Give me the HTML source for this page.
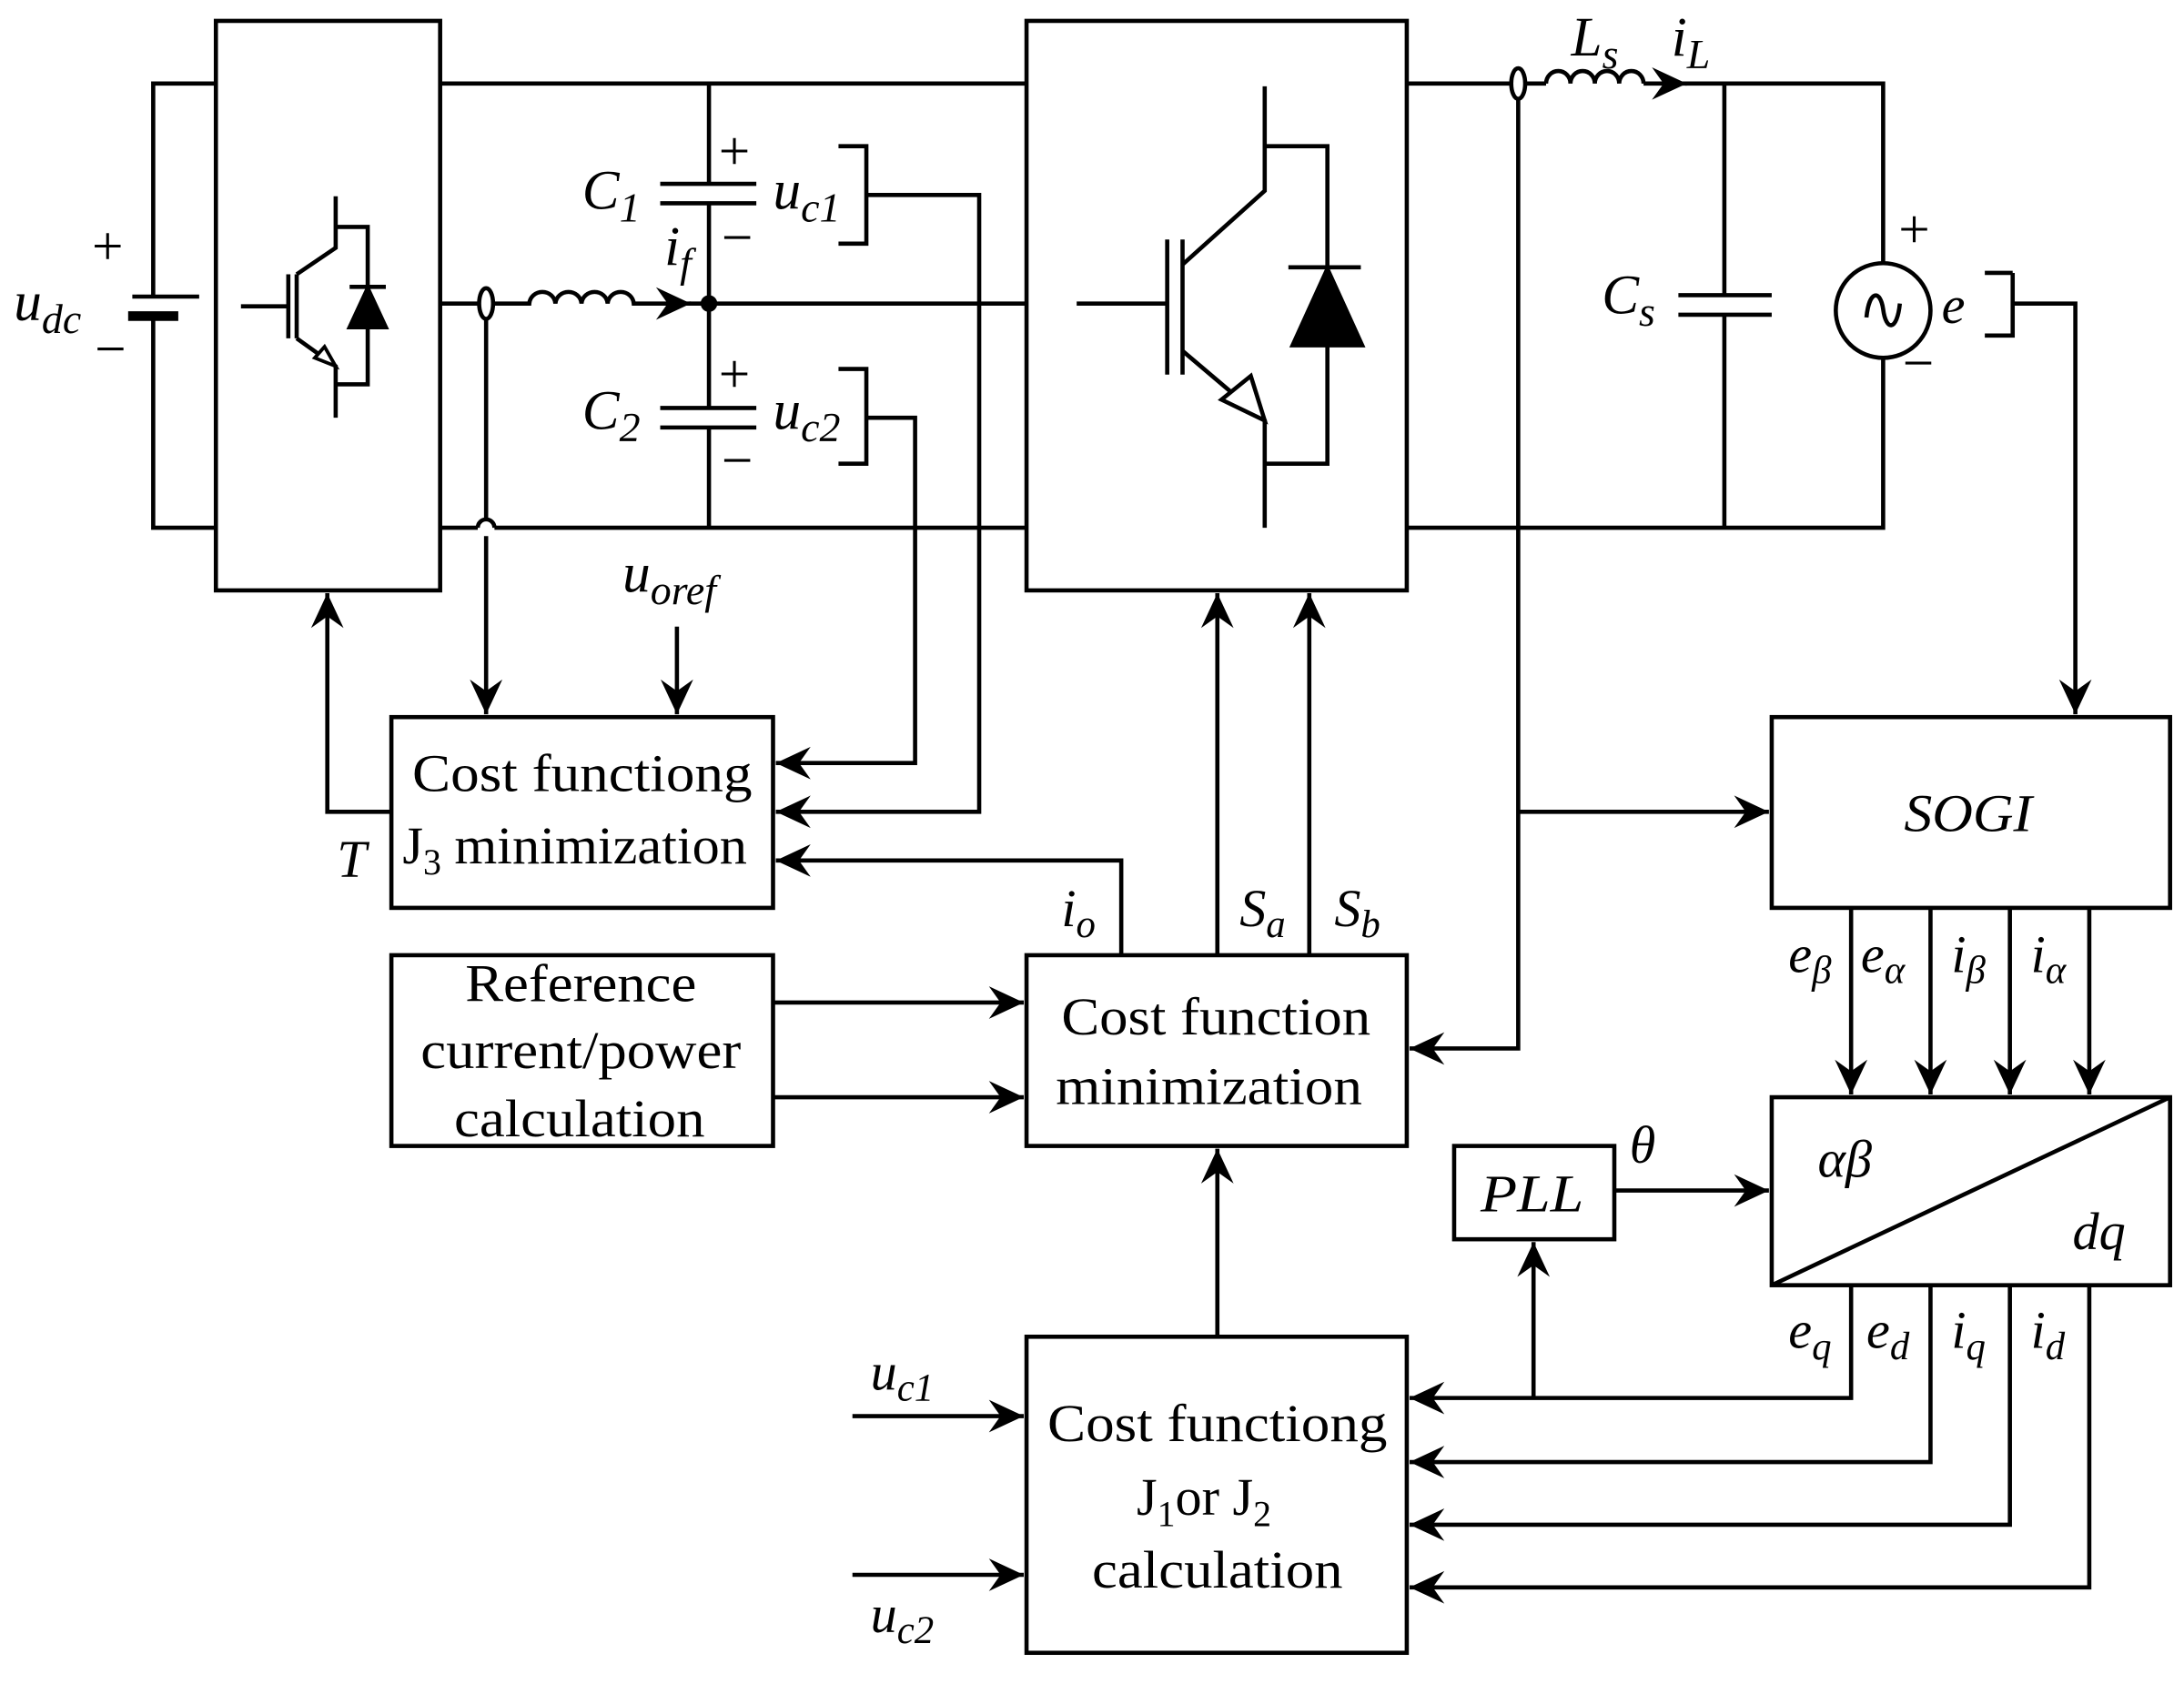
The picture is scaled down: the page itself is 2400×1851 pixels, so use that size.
<!DOCTYPE html>
<html><head><meta charset="utf-8"><style>html,body{margin:0;padding:0;background:#fff}svg{display:block}
text{font-family:"Liberation Serif",serif;fill:#000}
.i{font-style:italic}
</style></head><body>
<svg width="2400" height="1851" viewBox="0 0 1568 1209.4" preserveAspectRatio="none" xmlns="http://www.w3.org/2000/svg">
<defs><marker id="a" markerUnits="userSpaceOnUse" markerWidth="30" markerHeight="30" refX="0" refY="0" viewBox="-16 -8 18 16" orient="auto" overflow="visible"><path d="M0,0 L-15,-7 L-10,0 L-15,7 Z" fill="#000"/></marker></defs>
<g fill="none" stroke="#000" stroke-width="3">
<rect x="155" y="15" width="161" height="409"/>
<rect x="737" y="15" width="273" height="409"/>
<rect x="281" y="515" width="274" height="137"/>
<rect x="281" y="686" width="274" height="137"/>
<rect x="737" y="686" width="273" height="137"/>
<rect x="737" y="960" width="273" height="227"/>
<rect x="1272" y="515" width="286" height="137"/>
<rect x="1272" y="788" width="286" height="135"/>
<line x1="1272" y1="923" x2="1558" y2="788"/>
<rect x="1044" y="823" width="115" height="67"/>
<path d="M155,60 H110 V213 M110,227 V379 H155"/>
<line x1="95" y1="213" x2="143" y2="213"/>
<line x1="92" y1="227" x2="128" y2="227" stroke-width="7"/>
<path d="M316,60 H737 M1010,60 H1085 M1095,60 H1110"/>
<path d="M1110,60 a8.75,9 0 0 1 17.5,0 a8.75,9 0 0 1 17.5,0 a8.75,9 0 0 1 17.5,0 a8.75,9 0 0 1 17.5,0 M1180,60 H1352 V188 M1352,258 V379 H1010"/>
<ellipse cx="1090" cy="60" rx="5" ry="11"/>
<path d="M1210,60 h1" marker-end="url(#a)"/>
<path d="M316,379 H343 M355,379 H737"/>
<path d="M343,379 a6,6 0 0 1 12,0"/>
<path d="M316,218 H343 M355,218 H380 a9.4,9 0 0 1 18.75,0 a9.4,9 0 0 1 18.75,0 a9.4,9 0 0 1 18.75,0 a9.4,9 0 0 1 18.75,0 H737"/>
<path d="M495,218 h1" marker-end="url(#a)"/>
<ellipse cx="349" cy="218" rx="5" ry="11"/>
<path d="M509,60 V132 M509,146 V293 M509,307 V379"/>
<line x1="474" y1="132" x2="543" y2="132"/><line x1="474" y1="146" x2="543" y2="146"/>
<line x1="474" y1="293" x2="543" y2="293"/><line x1="474" y1="307" x2="543" y2="307"/>
<path d="M602,105 H622 V175 H602 M622,140 H703 V583 H557" marker-end="url(#a)"/>
<path d="M602,265 H622 V333 H602 M622,300 H657 V548 H557" marker-end="url(#a)"/>
<path d="M349,229 V374 M349,385 V513" marker-end="url(#a)"/>
<path d="M486,450 V513" marker-end="url(#a)"/>
<path d="M281,583 H235 V426" marker-end="url(#a)"/>
<path d="M805,686 V618 H557" marker-end="url(#a)"/>
<path d="M874,686 V426" marker-end="url(#a)"/>
<path d="M940,686 V426" marker-end="url(#a)"/>
<path d="M555,720 H735" marker-end="url(#a)"/>
<path d="M555,788 H735" marker-end="url(#a)"/>
<path d="M874,960 V825" marker-end="url(#a)"/>
<path d="M612,1017 H735" marker-end="url(#a)"/>
<path d="M612,1131 H735" marker-end="url(#a)"/>
<path d="M1090,71 V753 H1012" marker-end="url(#a)"/>
<path d="M1090,583 H1270" marker-end="url(#a)"/>
<path d="M1445,196 H1425 M1445,196 V241 H1425 M1445,218 H1490 V513" marker-end="url(#a)"/>
<path d="M1329,652 V786" marker-end="url(#a)"/>
<path d="M1386,652 V786" marker-end="url(#a)"/>
<path d="M1443,652 V786" marker-end="url(#a)"/>
<path d="M1500,652 V786" marker-end="url(#a)"/>
<path d="M1159,855 H1270" marker-end="url(#a)"/>
<path d="M1329,923 V1004 H1012" marker-end="url(#a)"/>
<path d="M1101,1004 V892" marker-end="url(#a)"/>
<path d="M1386,923 V1050 H1012" marker-end="url(#a)"/>
<path d="M1443,923 V1095 H1012" marker-end="url(#a)"/>
<path d="M1500,923 V1140 H1012" marker-end="url(#a)"/>
<path d="M1238,60 V212 M1238,226 V379"/>
<line x1="1205" y1="212" x2="1272" y2="212"/><line x1="1205" y1="226" x2="1272" y2="226"/>
<circle cx="1352" cy="223" r="34"/>
<path d="M1340,228 C1342,208 1350,208 1352,222 C1354,238 1362,238 1364,218"/>
<path d="M173,220 H207 M207,197 V243 M213,197 V243 M241,141 V178 L213,197 M213,243 L241,263 V300 M241,163 H264 V276 H241"/>
<polygon points="241,263 226,257 233,249" fill="#fff" stroke-width="2.5"/>
<line x1="251" y1="206" x2="277" y2="206"/>
<polygon points="264,207 251,235 277,235" fill="#000"/>
<path d="M773,218 H838 M838,172 V269 M849,172 V269 M908,62 V137 L849,190 M849,252 L908,302 V379 M908,105 H953 V333 H908"/>
<polygon points="898,270 908,302 877,287" fill="#fff"/>
<line x1="925" y1="192" x2="977" y2="192"/>
<polygon points="953,193 928,248 978,248" fill="#000"/>
</g>
<circle cx="509" cy="218" r="6" fill="#000"/>
<g font-size="34">
<text x="66" y="190" font-size="40">+</text><text x="68" y="264" font-size="40">−</text>
<text x="10" y="230" class="i" font-size="40">u<tspan font-size="30" dy="9">dc</tspan></text>
<text x="516" y="122" font-size="40">+</text><text x="518" y="184" font-size="40">−</text>
<text x="516" y="282" font-size="40">+</text><text x="518" y="344" font-size="40">−</text>
<text x="418" y="150" class="i" font-size="40">C<tspan font-size="30" dy="9">1</tspan></text>
<text x="418" y="308" class="i" font-size="40">C<tspan font-size="30" dy="9">2</tspan></text>
<text x="555" y="150" class="i" font-size="40">u<tspan font-size="30" dy="9">c1</tspan></text>
<text x="555" y="308" class="i" font-size="40">u<tspan font-size="30" dy="9">c2</tspan></text>
<text x="477" y="190" class="i" font-size="40">i<tspan font-size="30" dy="9">f</tspan></text>
<text x="447" y="425" class="i" font-size="40">u<tspan font-size="30" dy="9">oref</tspan></text>
<text x="1128" y="40" class="i" font-size="40">L<tspan font-size="30" dy="9">s</tspan></text>
<text x="1200" y="40" class="i" font-size="40">i<tspan font-size="30" dy="9">L</tspan></text>
<text x="1150" y="225" class="i" font-size="40">C<tspan font-size="30" dy="9">s</tspan></text>
<text x="1363" y="178" font-size="40">+</text><text x="1366" y="274" font-size="40">−</text>
<text x="1394" y="232" class="i" font-size="38">e</text>
<text x="242" y="630" class="i" font-size="38">T</text>
<text x="762" y="665" class="i" font-size="38">i<tspan font-size="28" dy="8">o</tspan></text>
<text x="890" y="665" class="i" font-size="38">S<tspan font-size="28" dy="8">a</tspan></text>
<text x="958" y="665" class="i" font-size="38">S<tspan font-size="28" dy="8">b</tspan></text>
<text x="1284" y="698" class="i" font-size="38">e<tspan font-size="28" dy="8">β</tspan></text>
<text x="1336" y="698" class="i" font-size="38">e<tspan font-size="28" dy="8">α</tspan></text>
<text x="1401" y="698" class="i" font-size="38">i<tspan font-size="28" dy="8">β</tspan></text>
<text x="1458" y="698" class="i" font-size="38">i<tspan font-size="28" dy="8">α</tspan></text>
<text x="1284" y="968" class="i" font-size="38">e<tspan font-size="28" dy="8">q</tspan></text>
<text x="1340" y="968" class="i" font-size="38">e<tspan font-size="28" dy="8">d</tspan></text>
<text x="1401" y="968" class="i" font-size="38">i<tspan font-size="28" dy="8">q</tspan></text>
<text x="1458" y="968" class="i" font-size="38">i<tspan font-size="28" dy="8">d</tspan></text>
<text x="1170" y="835" class="i" font-size="38">θ</text>
<text x="1305" y="845" class="i" font-size="38">αβ</text>
<text x="1488" y="897" class="i" font-size="38">dq</text>
<text x="1063" y="870" class="i" font-size="38" textLength="74" lengthAdjust="spacingAndGlyphs">PLL</text>
<text x="1367" y="597" class="i" font-size="38" textLength="92" lengthAdjust="spacingAndGlyphs">SOGI</text>
<text x="625" y="998" class="i" font-size="38">u<tspan font-size="28" dy="8">c1</tspan></text>
<text x="625" y="1172" class="i" font-size="38">u<tspan font-size="28" dy="8">c2</tspan></text>
</g>
<g font-size="38">
<text x="296" y="568" textLength="244" lengthAdjust="spacingAndGlyphs">Cost functiong</text>
<text x="289" y="620">J<tspan font-size="26" dy="8">3</tspan><tspan dy="-8"> </tspan><tspan textLength="210" lengthAdjust="spacingAndGlyphs">minimization</tspan></text>
<text x="334" y="719" textLength="166" lengthAdjust="spacingAndGlyphs">Reference</text>
<text x="302" y="767" textLength="230" lengthAdjust="spacingAndGlyphs">current/power</text>
<text x="326" y="816" textLength="180" lengthAdjust="spacingAndGlyphs">calculation</text>
<text x="762" y="743" textLength="222" lengthAdjust="spacingAndGlyphs">Cost function</text>
<text x="758" y="793" textLength="220" lengthAdjust="spacingAndGlyphs">minimization</text>
<text x="752" y="1035" textLength="244" lengthAdjust="spacingAndGlyphs">Cost functiong</text>
<text x="816" y="1088">J<tspan font-size="26" dy="8">1</tspan><tspan dy="-8">or J</tspan><tspan font-size="26" dy="8">2</tspan></text>
<text x="784" y="1140" textLength="180" lengthAdjust="spacingAndGlyphs">calculation</text>
</g>
</svg>
</body></html>
